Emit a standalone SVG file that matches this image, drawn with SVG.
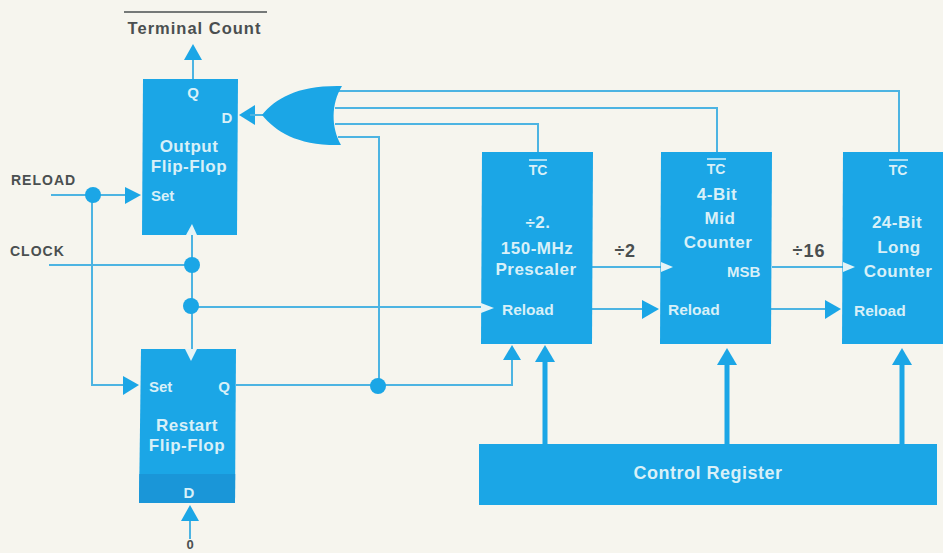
<svg xmlns="http://www.w3.org/2000/svg" width="943" height="553" viewBox="0 0 943 553">
<defs>
<style>
.blk{fill:#1ba6e6}
.w{stroke:#4db4e2;stroke-width:2;fill:none}
.th{stroke:#1ba6e6;stroke-width:5;fill:none}
.head{fill:#1ba6e6}
.dot{fill:#1ba6e6}
.notch{fill:#e6f4f6}
text{font-family:"Liberation Sans",Arial,sans-serif;font-weight:700}
.t{fill:#d8f0f8;font-size:17px;letter-spacing:.5px;text-anchor:middle}
.s{fill:#d8f0f8;font-size:15px}
.r{fill:#d8f0f8;font-size:15.5px}
.m{text-anchor:middle}
.d{fill:#4a4f50;font-size:14px;letter-spacing:1px}
.ol{stroke:#d8f0f8;stroke-width:1.5}
</style>
</defs>
<rect width="943" height="553" fill="#f6f5ee"/>
<g id="connectors">
<path class="w" d="M193 79V56"/>
<path class="head" d="M193 44L202 60H184Z"/>
<path class="head" d="M239 115L255 105V125Z"/>
<path class="w" d="M250 115H268"/>
<path class="w" d="M338 91H899V152"/>
<path class="w" d="M335 108H717V152"/>
<path class="w" d="M335 124H538V152"/>
<path class="w" d="M338 137H379V385"/>
<path class="w" d="M51 195H128"/>
<path class="head" d="M141 195L125 187V204Z"/>
<path class="w" d="M92 195V385H126"/>
<path class="head" d="M139 385L123 376V395Z"/>
<path class="w" d="M49 265H192"/>
<path class="w" d="M192 228V352"/>
<path class="w" d="M192 307H484"/>
<path class="w" d="M236 385H512V355"/>
<path class="head" d="M512 345L521 360H503Z"/>
<path class="w" d="M592 309H645"/>
<path class="head" d="M659 309L642 300V319Z"/>
<path class="w" d="M771 309H828"/>
<path class="head" d="M841 309L825 300V319Z"/>
<path class="w" d="M592 267H664"/>
<path class="w" d="M772 267H846"/>
<path class="th" d="M545 444V358"/>
<path class="head" d="M545 345L555 362H535Z"/>
<path class="th" d="M727 444V362"/>
<path class="head" d="M727 348L737 365H717Z"/>
<path class="th" d="M902 444V362"/>
<path class="head" d="M902 348L912 365H892Z"/>
<path class="w" d="M190 539V512"/>
<path class="head" d="M190 505L199 521H181Z"/>
<circle class="dot" cx="93" cy="195" r="8"/>
<circle class="dot" cx="192" cy="265" r="8"/>
<circle class="dot" cx="191" cy="306" r="8"/>
<circle class="dot" cx="378" cy="386" r="8"/>
</g>
<g id="terminal-count">
<line x1="124" y1="12" x2="267" y2="12" stroke="#4a4f50" stroke-width="1.5"/>
<text x="194.500" y="33.500" class="d m" style="font-size:16.5px;letter-spacing:1px">Terminal Count</text>
</g>
<g id="reload-label"><text x="11" y="185" class="d">RELOAD</text></g>
<g id="clock-label"><text x="10" y="256" class="d">CLOCK</text></g>
<g id="zero-label"><text x="190" y="549" class="d m" style="font-size:13px;letter-spacing:0">0</text></g>
<g id="div2-label"><text x="625" y="257" class="d m" style="font-size:18px;letter-spacing:.5px">÷2</text></g>
<g id="div16-label"><text x="809" y="257" class="d m" style="font-size:18px;letter-spacing:1px">÷16</text></g>
<g id="or-gate">
<path class="blk" d="M262 115C276 98 298 85 342 86C331 104 331 127 341 145C298 146 276 132 262 115Z"/>
</g>
<g id="output-flip-flop">
<path class="blk" d="M143 79H238L237 235H142Z"/>
<path class="notch" d="M186 235L192 224L197 235Z"/>
<text x="193" y="98" class="s m">Q</text>
<text x="227" y="123" class="s m">D</text>
<text x="189" y="152" class="t">Output</text>
<text x="189" y="172" class="t">Flip-Flop</text>
<text x="151" y="201" class="s">Set</text>
</g>
<g id="restart-flip-flop">
<path class="blk" d="M141 349H236L235 503H139Z"/>
<path fill="#1a96d8" d="M139.300 474H235.200L235 503H139Z"/>
<path class="notch" d="M185 349L191 361L197 349Z"/>
<text x="149" y="392" class="s">Set</text>
<text x="224" y="392" class="s m">Q</text>
<text x="187" y="431" class="t">Restart</text>
<text x="187" y="451" class="t">Flip-Flop</text>
<text x="189" y="498" class="s m">D</text>
</g>
<g id="prescaler">
<path class="blk" d="M482 152H593L592 344H481Z"/>
<path class="notch" d="M481 303L494 308L481 313Z"/>
<text x="538" y="175" class="s m" style="font-size:14px">TC</text><line class="ol" x1="529" y1="160" x2="547" y2="160"/>
<text x="538" y="228" class="t">÷2.</text>
<text x="537" y="254" class="t">150-MHz</text>
<text x="536" y="275" class="t">Prescaler</text>
<text x="502" y="315" class="r">Reload</text>
</g>
<g id="mid-counter">
<path class="blk" d="M661 152H772L771 344H660Z"/>
<path class="notch" d="M661 262L673 267L661 272Z"/>
<text x="716" y="174" class="s m" style="font-size:14px">TC</text><line class="ol" x1="707" y1="159" x2="726" y2="159"/>
<text x="717" y="200" class="t">4-Bit</text>
<text x="720" y="224" class="t">Mid</text>
<text x="718" y="248" class="t">Counter</text>
<text x="727" y="277" class="s">MSB</text>
<text x="668" y="315" class="r">Reload</text>
</g>
<g id="long-counter">
<path class="blk" d="M843 152H943V344H842Z"/>
<path class="notch" d="M843 262L855 267L843 272Z"/>
<text x="898" y="175" class="s m" style="font-size:14px">TC</text><line class="ol" x1="889" y1="160" x2="908" y2="160"/>
<text x="897" y="228" class="t">24-Bit</text>
<text x="899" y="253" class="t">Long</text>
<text x="898" y="277" class="t">Counter</text>
<text x="854" y="316" class="r">Reload</text>
</g>
<g id="control-register">
<rect class="blk" x="479" y="444" width="458" height="61"/>
<text x="708" y="479" class="t" style="font-size:18px">Control Register</text>
</g>
</svg>
